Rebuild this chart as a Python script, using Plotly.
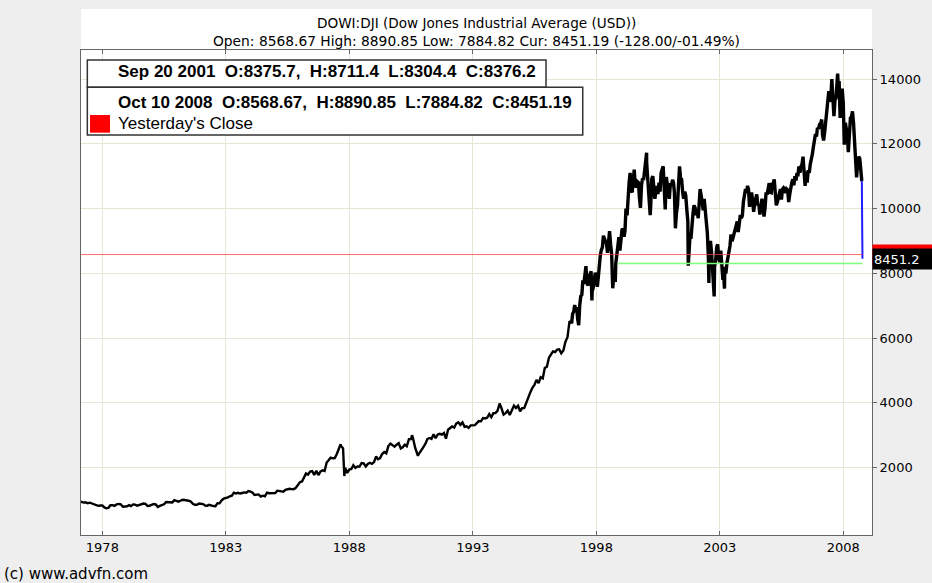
import pandas as pd
import plotly.graph_objects as go

# ---------------- data ----------------
# Monthly closes, Jan 1977 .. Dec 1986
closes_1977_1986 = [
    954, 936, 919, 927, 899, 916, 890, 861, 847, 818, 830, 831,
    770, 742, 757, 837, 841, 819, 862, 877, 866, 792, 799, 805,
    839, 809, 862, 855, 822, 842, 846, 888, 879, 816, 822, 839,
    876, 863, 786, 817, 851, 868, 935, 933, 932, 924, 993, 964,
    947, 975, 1004, 998, 992, 977, 952, 881, 850, 853, 889, 875,
    871, 824, 823, 848, 820, 812, 809, 901, 896, 992, 1039, 1047,
    1076, 1113, 1130, 1226, 1200, 1222, 1199, 1216, 1233, 1225, 1276, 1259,
    1221, 1155, 1165, 1171, 1105, 1132, 1115, 1224, 1207, 1207, 1189, 1212,
    1287, 1284, 1267, 1258, 1315, 1335, 1347, 1334, 1329, 1374, 1472, 1547,
    1571, 1709, 1819, 1784, 1877, 1893, 1775, 1898, 1768, 1878, 1914, 1896,
]
# Monthly closes, Jan 1987 .. Dec 1996
closes_1987_1996 = [
    2158, 2224, 2305, 2286, 2292, 2419, 2572, 2663, 2596, 1994, 1834, 1939,
    1958, 2072, 1988, 2032, 2031, 2142, 2129, 2032, 2113, 2149, 2115, 2169,
    2342, 2258, 2294, 2419, 2480, 2440, 2661, 2737, 2693, 2645, 2706, 2753,
    2591, 2627, 2707, 2657, 2877, 2881, 2905, 2614, 2452, 2442, 2560, 2634,
    2736, 2882, 2914, 2888, 3028, 2907, 3025, 3044, 3017, 3069, 2895, 3169,
    3223, 3268, 3235, 3359, 3397, 3319, 3394, 3257, 3272, 3226, 3305, 3301,
    3310, 3371, 3435, 3428, 3527, 3516, 3539, 3651, 3555, 3681, 3684, 3754,
    3978, 3832, 3636, 3682, 3758, 3625, 3765, 3913, 3843, 3908, 3739, 3834,
    3844, 4011, 4158, 4321, 4465, 4556, 4708, 4611, 4789, 4755, 5074, 5117,
    5395, 5486, 5587, 5569, 5643, 5655, 5529, 5616, 5882, 6029, 6522, 6448,
]
# Monthly closes, Jan 1997 .. Sep 2008
closes_1997_2008 = [
    6813, 6878, 6583, 7009, 7331, 7673, 8223, 7622, 7945, 7442, 7823, 7908,
    7907, 8546, 8800, 9063, 8900, 8952, 8883, 7539, 7843, 8592, 9117, 9181,
    9359, 9307, 9786, 10789, 10560, 10971, 10655, 10829, 10337, 10730, 10878, 11497,
    10941, 10128, 10922, 10734, 10522, 10448, 10522, 11215, 10651, 10971, 10414, 10787,
    10887, 10495, 9879, 10735, 10912, 10502, 10523, 9950, 8848, 9075, 9852, 10022,
    9920, 10106, 10404, 9946, 9925, 9243, 8737, 8664, 7592, 8397, 8896, 8342,
    8054, 7891, 7992, 8480, 8850, 8985, 9234, 9416, 9275, 9801, 9782, 10454,
    10488, 10584, 10358, 10226, 10188, 10435, 10140, 10174, 10080, 10027, 10428, 10783,
    10490, 10766, 10504, 10193, 10467, 10275, 10641, 10482, 10569, 10440, 10806, 10718,
    10865, 10993, 11109, 11367, 11168, 11150, 11186, 11381, 11679, 12081, 12222, 12463,
    12622, 12269, 12354, 13063, 13628, 13409, 13212, 13358, 13896, 13930, 13372, 13265,
    12650, 12266, 12263, 12820, 12638, 11350, 11378, 11544, 10851,
]
# Mid-month swings, Jan 1997 .. Sep 2008
mid_1997_2008 = [
    6750, 7020, 6950, 6400, 7290, 7780, 7920, 7700, 7880, 8060, 7550, 8020,
    7580, 8370, 8720, 9160, 9050, 8630, 9300, 8600, 7900, 8300, 9000, 8700,
    9340, 9130, 10000, 10400, 11100, 10500, 11200, 10700, 10800, 10020, 10930, 11200,
    11400, 10200, 10100, 11000, 10300, 10700, 10800, 11100, 11300, 9975, 10700, 10300,
    10700, 10800, 9390, 10100, 11300, 10900, 10300, 10400, 9600, 9100, 9700, 10100,
    9800, 9700, 10600, 10100, 10300, 9400, 8500, 9000, 8200, 8200, 8800, 8500,
    8700, 7800, 8200, 8300, 8700, 9200, 9100, 9300, 9600, 9600, 9700, 10200,
    10600, 10700, 10050, 10500, 9900, 10400, 10100, 9815, 10300, 9750, 10500, 10700,
    10500, 10800, 10900, 10100, 10300, 10600, 10600, 10600, 10600, 10200, 10700, 10900,
    11000, 11100, 11300, 11300, 11600, 10700, 10800, 11100, 11500, 11900, 12300, 12500,
    12600, 12750, 12100, 12700, 13500, 13300, 14000, 12850, 13400, 13900, 12800, 13700,
    11970, 12400, 11740, 12800, 13000, 12000, 10962, 11600, 11000,
]
# Notable intramonth extremes
extreme_dates = ["1987-08-25", "1987-10-19", "1990-07-16", "1990-10-11",
                 "1997-10-27", "1998-10-08", "2000-01-14", "2000-03-07",
                 "2001-09-21", "2002-07-23", "2002-10-09", "2003-03-11",
                 "2007-10-09"]
extreme_values = [2722, 1739, 3000, 2365,
                  7161, 7731, 11723, 9796,
                  8236, 7702, 7286, 7524,
                  14165]
# Final days (drawn in blue)
last_dates = ["2008-09-30", "2008-10-01", "2008-10-02", "2008-10-03", "2008-10-06",
              "2008-10-07", "2008-10-08", "2008-10-09", "2008-10-10"]
last_values = [10851, 10831, 10483, 10325, 9956, 9447, 9258, 8579, 8451.19]

yesterday_close = 8579.19
sep2001_low = 8304.4
cur_label = "8451.2"

x_ticks = ["1978", "1983", "1988", "1993", "1998", "2003", "2008"]
y_ticks = [2000, 4000, 6000, 8000, 10000, 12000, 14000]

# ---------------- build series ----------------
me1 = pd.date_range("1977-01-31", periods=len(closes_1977_1986) + len(closes_1987_1996), freq="ME")
me2 = pd.date_range("1997-01-31", periods=len(closes_1997_2008), freq="ME")
mid2 = [d.replace(day=15) for d in me2]
df = pd.concat([
    pd.DataFrame({"d": me1, "v": closes_1977_1986 + closes_1987_1996}),
    pd.DataFrame({"d": me2, "v": closes_1997_2008}),
    pd.DataFrame({"d": pd.to_datetime(mid2), "v": mid_1997_2008}),
    pd.DataFrame({"d": pd.to_datetime(extreme_dates), "v": extreme_values}),
]).sort_values("d")
early = df[df["d"] < "1997-01-01"]
late = df[df["d"] >= "1996-12-01"]

FONT = "DejaVu Sans"
fig = go.Figure()
fig.add_trace(go.Scatter(x=early["d"], y=early["v"], mode="lines",
                         line=dict(color="black", width=2.4), hoverinfo="skip"))
fig.add_trace(go.Scatter(x=late["d"], y=late["v"], mode="lines",
                         line=dict(color="black", width=3.4), hoverinfo="skip"))
fig.add_trace(go.Scatter(x=pd.to_datetime(last_dates), y=last_values, mode="lines",
                         line=dict(color="#2020ff", width=2), hoverinfo="skip"))

# reference lines
fig.add_shape(type="line", xref="x", yref="y", x0="1977-01-01", x1=last_dates[-1],
              y0=yesterday_close, y1=yesterday_close,
              line=dict(color="rgba(255,60,60,0.75)", width=1))
fig.add_shape(type="line", xref="x", yref="y", x0="1998-11-18", x1=last_dates[-1],
              y0=sep2001_low, y1=sep2001_low,
              line=dict(color="#7dff7d", width=1.6))

# white title strip
fig.add_shape(type="rect", xref="paper", yref="paper", x0=0, x1=1, y0=1.0, y1=1.0845,
              fillcolor="white", line=dict(width=0), layer="below")

# legend boxes
fig.add_shape(type="rect", xref="paper", yref="paper", x0=0.008, x1=0.5879, y0=0.9231, y1=0.9794,
              fillcolor="white", line=dict(color="#333333", width=1.5))
fig.add_shape(type="rect", xref="paper", yref="paper", x0=0.008, x1=0.6343, y0=0.8247, y1=0.9231,
              fillcolor="white", line=dict(color="#333333", width=1.5))
fig.add_shape(type="rect", xref="paper", yref="paper", x0=0.0114, x1=0.0367, y0=0.8295, y1=0.866,
              fillcolor="#ff0000", line=dict(width=0))

NB = "\u00a0"
ann = [
    dict(text="DOWI:DJI (Dow Jones Industrial Average (USD))", x=0.5, y=1.0557,
         xanchor="center", font=dict(size=13.6)),
    dict(text="Open: 8568.67 High: 8890.85 Low: 7884.82 Cur: 8451.19 (-128.00/-01.49%)",
         x=0.5, y=1.0186, xanchor="center", font=dict(size=13.8)),
    dict(text=f"<b>Sep 20 2001 {NB}O:8375.7, {NB}H:8711.4 {NB}L:8304.4 {NB}C:8376.2</b>",
         x=0.0443, y=0.9553, xanchor="left", font=dict(size=17, family="Liberation Sans")),
    dict(text=f"<b>Oct 10 2008 {NB}O:8568.67, {NB}H:8890.85 {NB}L:7884.82 {NB}C:8451.19</b>",
         x=0.0443, y=0.8913, xanchor="left", font=dict(size=17, family="Liberation Sans")),
    dict(text="Yesterday's Close", x=0.0443, y=0.8489, xanchor="left",
         font=dict(size=17, family="Liberation Sans")),
    dict(text="(c) www.advfn.com", x=-0.0999, y=-0.0804, xanchor="left",
         font=dict(size=15)),
]
for a in ann:
    f = dict(family=FONT, color="black")
    f.update(a.pop("font"))
    fig.add_annotation(xref="paper", yref="paper", yanchor="middle", showarrow=False,
                       font=f, **a)

# price markers on the right axis
fig.add_annotation(xref="paper", yref="y", x=1.0, y=yesterday_close, xanchor="left",
                   yanchor="middle", text=" ", showarrow=False, bgcolor="#ff0000",
                   width=60, height=18, borderpad=1, font=dict(size=12))
fig.add_annotation(xref="paper", yref="y", x=1.0, y=last_values[-1], xanchor="left",
                   yanchor="middle", text=cur_label, showarrow=False, bgcolor="black",
                   width=60, height=18, borderpad=1, align="left",
                   font=dict(family=FONT, size=13, color="white"))

grid = "#e6e6d4"
fig.update_layout(
    width=932, height=583, autosize=False,
    margin=dict(l=81, r=60, t=50, b=48, pad=0),
    paper_bgcolor="#eeeeee", plot_bgcolor="white",
    showlegend=False,
    xaxis=dict(type="date", range=["1977-02-19", "2009-02-28"],
               tickvals=[f"{t}-01-01" for t in x_ticks], ticktext=x_ticks,
               ticks="inside", ticklen=4, tickcolor="#666666",
               showgrid=True, gridcolor=grid, gridwidth=1,
               showline=True, linecolor="#666666", linewidth=1, mirror="ticks",
               zeroline=False, tickfont=dict(family=FONT, size=13, color="black")),
    yaxis=dict(side="right", range=[-82, 14896], tickvals=y_ticks,
               ticktext=[str(v) for v in y_ticks],
               ticks="outside", ticklen=4, tickcolor="#666666",
               showgrid=True, gridcolor=grid, gridwidth=1,
               showline=True, linecolor="#666666", linewidth=1, mirror=True,
               zeroline=False, tickfont=dict(family=FONT, size=13, color="black")),
)

fig.write_html("out.html", config={"displayModeBar": False},
               post_script="document.body.style.margin='0px';")
